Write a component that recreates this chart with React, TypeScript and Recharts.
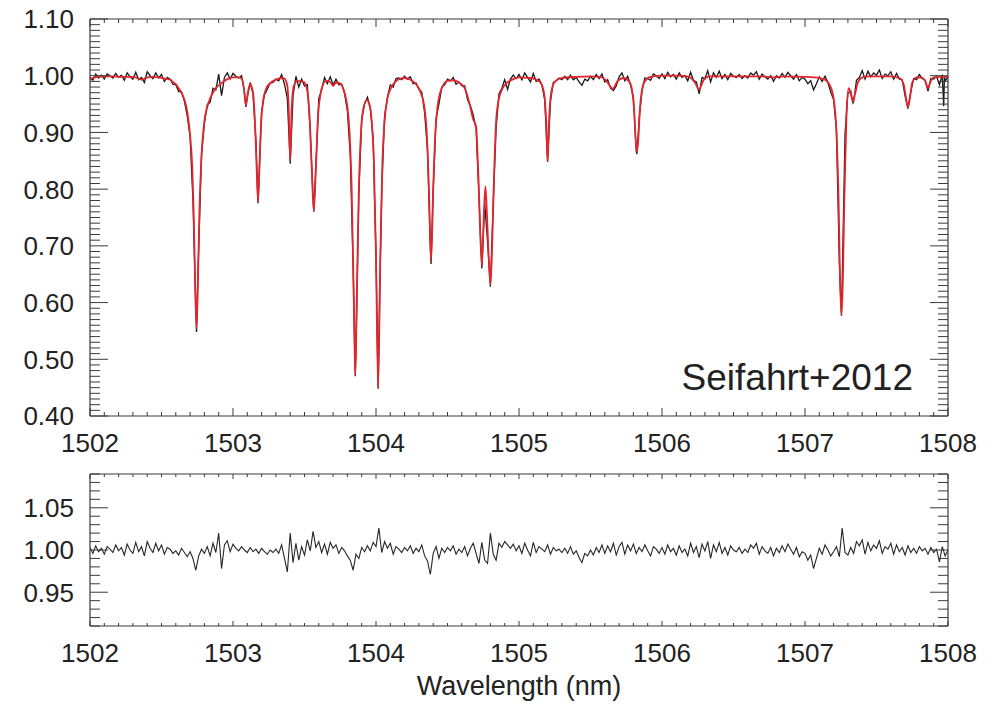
import React from 'react';
import { LineChart, Line, XAxis, YAxis } from 'recharts';

// ---------- data ----------
// best-fit telluric model (red): [wavelength nm, normalized flux]
const modelSpectrum: [number, number][] = [
  [1502.00,.993],[1502.02,.996],[1502.05,.998],[1502.10,.999],[1502.16,.999],[1502.22,.998],[1502.30,.998],[1502.33,.996],[1502.36,.993],[1502.39,.996],
  [1502.43,.998],[1502.48,.997],[1502.52,.995],[1502.56,.993],[1502.58,.989],[1502.60,.985],[1502.62,.978],[1502.64,.970],[1502.66,.958],[1502.68,.937],
  [1502.70,.895],[1502.715,.84],[1502.725,.76],[1502.735,.64],[1502.745,.555],[1502.755,.64],[1502.765,.76],[1502.78,.86],[1502.80,.92],[1502.82,.945],
  [1502.84,.96],[1502.86,.97],[1502.88,.978],[1502.90,.983],[1502.93,.989],[1502.96,.994],[1503.00,.997],[1503.04,.997],[1503.06,.995],[1503.075,.98],
  [1503.09,.948],[1503.105,.972],[1503.12,.985],[1503.14,.970],[1503.155,.91],[1503.165,.84],[1503.175,.778],[1503.185,.84],[1503.195,.91],[1503.21,.955],
  [1503.23,.976],[1503.26,.987],[1503.30,.993],[1503.34,.996],[1503.36,.995],[1503.38,.982],[1503.39,.94],[1503.40,.85],[1503.41,.94],[1503.425,.982],
  [1503.45,.991],[1503.48,.990],[1503.50,.988],[1503.52,.972],[1503.535,.93],[1503.55,.84],[1503.565,.762],[1503.58,.84],[1503.595,.93],[1503.61,.965],
  [1503.63,.985],[1503.65,.991],[1503.68,.989],[1503.70,.982],[1503.72,.988],[1503.75,.986],[1503.78,.970],[1503.80,.945],[1503.815,.90],[1503.83,.80],
  [1503.845,.60],[1503.855,.472],[1503.865,.60],[1503.88,.80],[1503.895,.90],[1503.91,.94],[1503.935,.957],[1503.955,.948],[1503.97,.92],[1503.985,.85],
  [1504.00,.68],[1504.015,.45],[1504.03,.68],[1504.045,.85],[1504.06,.92],[1504.08,.96],[1504.10,.976],[1504.13,.988],[1504.17,.995],[1504.20,.996],
  [1504.24,.993],[1504.28,.985],[1504.31,.972],[1504.34,.942],[1504.355,.90],[1504.37,.80],[1504.385,.672],[1504.40,.80],[1504.415,.90],[1504.43,.945],
  [1504.46,.978],[1504.50,.991],[1504.54,.992],[1504.58,.988],[1504.62,.978],[1504.65,.955],[1504.68,.923],[1504.70,.91],[1504.715,.83],[1504.74,.665],
  [1504.755,.76],[1504.765,.805],[1504.775,.76],[1504.79,.67],[1504.80,.632],[1504.81,.68],[1504.825,.82],[1504.84,.92],[1504.86,.96],[1504.88,.975],
  [1504.91,.986],[1504.96,.994],[1505.00,.997],[1505.08,.996],[1505.12,.993],[1505.15,.988],[1505.175,.97],[1505.19,.92],[1505.20,.85],[1505.21,.92],
  [1505.225,.97],[1505.25,.989],[1505.30,.996],[1505.40,.998],[1505.50,.999],[1505.58,.997],[1505.62,.988],[1505.655,.977],[1505.69,.991],[1505.73,.996],
  [1505.77,.99],[1505.79,.975],[1505.805,.94],[1505.815,.89],[1505.825,.865],[1505.835,.89],[1505.845,.94],[1505.86,.975],[1505.88,.99],[1505.92,.998],
  [1506.00,1.000],[1506.10,1.000],[1506.19,.998],[1506.23,.988],[1506.26,.976],[1506.29,.992],[1506.33,.999],[1506.50,.999],[1506.70,.999],[1506.78,.997],
  [1506.85,.999],[1507.00,.998],[1507.10,.996],[1507.14,.993],[1507.17,.985],[1507.20,.96],[1507.22,.90],[1507.235,.78],[1507.245,.64],[1507.255,.58],
  [1507.265,.64],[1507.275,.78],[1507.29,.93],[1507.305,.978],[1507.32,.968],[1507.335,.955],[1507.35,.968],[1507.37,.988],[1507.40,.997],[1507.45,.999],
  [1507.60,.999],[1507.66,.996],[1507.69,.985],[1507.71,.955],[1507.72,.945],[1507.73,.955],[1507.75,.988],[1507.78,.997],[1507.82,.996],[1507.845,.988],
  [1507.86,.978],[1507.875,.988],[1507.90,.997],[1507.95,.998],[1508.00,.998],
];

// observed spectrum (black): [wavelength nm, normalized flux]
const observedSpectrum: [number, number][] = [
  [1502.00,.997],[1502.02,.992],[1502.04,1.003],[1502.06,.996],[1502.08,1.001],[1502.10,.994],[1502.12,1.003],[1502.14,1.000],[1502.16,.996],[1502.18,1.004],
  [1502.20,.997],[1502.22,1.001],[1502.24,.992],[1502.26,1.005],[1502.28,.998],[1502.30,.994],[1502.32,1.006],[1502.34,.993],[1502.36,.997],[1502.38,.988],
  [1502.40,1.007],[1502.42,1.000],[1502.44,.995],[1502.46,1.005],[1502.48,.996],[1502.50,1.002],[1502.52,.990],[1502.54,.997],[1502.56,.994],[1502.58,.985],
  [1502.60,.984],[1502.62,.972],[1502.64,.972],[1502.66,.955],[1502.68,.929],[1502.70,.893],[1502.72,.78],[1502.74,.585],[1502.745,.548],[1502.76,.695],[1502.78,.861],
  [1502.80,.916],[1502.82,.949],[1502.84,.953],[1502.86,.978],[1502.88,.975],[1502.90,1.003],[1502.92,.965],[1502.94,.997],[1502.96,1.005],[1502.98,.994],
  [1503.00,1.004],[1503.02,.999],[1503.04,.996],[1503.06,1.000],[1503.08,.972],[1503.09,.945],[1503.10,.962],[1503.12,.988],[1503.14,.968],[1503.16,.886],[1503.175,.775],[1503.18,.807],
  [1503.20,.937],[1503.22,.966],[1503.24,.976],[1503.26,.987],[1503.28,.988],[1503.30,.994],[1503.32,.991],[1503.34,1.002],[1503.36,.985],[1503.38,.960],
  [1503.40,.845],[1503.42,.965],[1503.44,.999],[1503.46,.980],[1503.48,.994],[1503.50,.982],[1503.52,.984],[1503.54,.904],[1503.56,.785],[1503.565,.760],[1503.58,.843],
  [1503.60,.960],[1503.62,.975],[1503.64,.997],[1503.66,.986],[1503.68,.998],[1503.70,.984],[1503.72,.994],[1503.74,.984],[1503.76,.985],[1503.78,.969],
  [1503.80,.938],[1503.82,.860],[1503.84,.664],[1503.855,.470],[1503.86,.517],[1503.88,.792],[1503.90,.923],[1503.92,.950],[1503.94,.962],[1503.96,.944],[1503.98,.888],
  [1504.00,.683],[1504.015,.448],[1504.02,.533],[1504.04,.797],[1504.06,.929],[1504.08,.962],[1504.10,.984],[1504.12,.980],[1504.14,.995],[1504.16,.996],[1504.18,.993],
  [1504.20,.999],[1504.22,.994],[1504.24,.998],[1504.26,.986],[1504.28,.987],[1504.30,.976],[1504.32,.971],[1504.34,.935],[1504.36,.869],[1504.38,.700],[1504.385,.668],
  [1504.40,.797],[1504.42,.924],[1504.44,.950],[1504.46,.980],[1504.48,.984],[1504.50,.994],[1504.52,.991],[1504.54,.997],[1504.56,.985],[1504.58,.989],
  [1504.60,.982],[1504.62,.982],[1504.64,.958],[1504.66,.947],[1504.68,.931],[1504.70,.906],[1504.72,.787],[1504.74,.660],[1504.76,.775],[1504.78,.708],
  [1504.80,.628],[1504.82,.776],[1504.84,.909],[1504.86,.968],[1504.88,.978],[1504.90,.993],[1504.92,.976],[1504.94,.994],[1504.96,1.001],[1504.98,.995],
  [1505.00,1.002],[1505.02,.993],[1505.04,1.005],[1505.06,.997],[1505.08,.989],[1505.10,1.004],[1505.12,.990],[1505.14,.994],[1505.16,.984],[1505.18,.958],
  [1505.20,.848],[1505.22,.955],[1505.24,.988],[1505.26,.991],[1505.28,.996],[1505.30,.993],[1505.32,.999],[1505.34,.993],[1505.36,1.001],[1505.38,.993],
  [1505.40,.997],[1505.42,.989],[1505.44,.983],[1505.46,.994],[1505.48,.991],[1505.50,.999],[1505.52,.993],[1505.54,1.002],[1505.56,.995],[1505.58,1.003],
  [1505.60,.989],[1505.62,.993],[1505.64,.978],[1505.66,.974],[1505.68,.982],[1505.70,.998],[1505.72,1.005],[1505.74,.991],[1505.76,.999],[1505.78,.984],
  [1505.80,.962],[1505.82,.866],[1505.825,.862],[1505.84,.923],[1505.86,.973],[1505.88,.996],[1505.90,.995],[1505.92,.992],[1505.94,1.003],[1505.96,1.000],[1505.98,.995],
  [1506.00,1.003],[1506.02,.995],[1506.04,1.006],[1506.06,.998],[1506.08,1.002],[1506.10,.994],[1506.12,1.005],[1506.14,.997],[1506.16,1.000],[1506.18,.991],
  [1506.20,1.006],[1506.22,.992],[1506.24,.989],[1506.26,.968],[1506.28,.997],[1506.30,.995],[1506.32,1.009],[1506.34,.989],[1506.36,1.005],[1506.38,.997],
  [1506.40,1.008],[1506.42,.995],[1506.44,1.002],[1506.46,.993],[1506.48,1.004],[1506.50,.999],[1506.52,.997],[1506.54,1.002],[1506.56,.995],[1506.58,1.000],
  [1506.60,.996],[1506.62,1.005],[1506.64,1.001],[1506.66,1.007],[1506.68,.994],[1506.70,1.003],[1506.72,.998],[1506.74,.994],[1506.76,1.000],[1506.78,.990],
  [1506.80,1.000],[1506.82,.996],[1506.84,1.004],[1506.86,.997],[1506.88,1.006],[1506.90,1.000],[1506.92,.994],[1506.94,1.002],[1506.96,.991],[1506.98,.997],
  [1507.00,.994],[1507.02,.986],[1507.04,.991],[1507.06,.975],[1507.08,.986],[1507.10,.998],[1507.12,.990],[1507.14,.999],[1507.16,.988],[1507.18,.971],
  [1507.20,.958],[1507.22,.904],[1507.24,.672],[1507.255,.577],[1507.26,.636],[1507.28,.897],[1507.30,.969],[1507.32,.973],[1507.335,.952],[1507.34,.954],[1507.36,.992],[1507.38,.997],
  [1507.40,1.009],[1507.42,.994],[1507.44,1.008],[1507.46,.998],[1507.48,1.005],[1507.50,1.001],[1507.52,1.010],[1507.54,.995],[1507.56,1.003],[1507.58,1.000],
  [1507.60,1.007],[1507.62,.994],[1507.64,1.004],[1507.66,.994],[1507.68,.993],[1507.70,.964],[1507.72,.942],[1507.74,.972],[1507.76,.995],[1507.78,.993],
  [1507.80,1.002],[1507.82,.995],[1507.84,.992],[1507.86,.973],[1507.88,.995],[1507.90,.994],[1507.92,.999],[1507.94,.984],[1507.96,1.002],[1507.97,.946],[1507.975,.998],[1507.98,.991],[1508.00,.998],
];

// residuals (observed / model), sampled every 0.02 nm from 1502.00 nm
const residualStart = 1502.0;
const residualStep = 0.02;
const residuals: number[] = [
  1.003,0.996,1.005,0.998,1.002,0.995,1.004,1.001,0.997,1.006,
  0.999,1.003,0.994,1.007,1.000,0.996,1.009,0.998,1.004,0.993,
  1.010,1.002,0.997,1.008,0.999,1.006,0.995,1.003,1.001,0.996,
  0.999,0.994,1.002,0.997,0.992,0.998,0.990,0.976,0.993,1.001,
  0.996,1.004,0.993,1.008,0.997,1.020,0.978,1.006,1.011,0.998,
  1.007,1.002,0.999,1.004,1.000,0.997,1.003,0.998,1.001,0.996,
  1.002,0.998,0.995,1.000,0.997,1.001,0.996,1.006,0.990,0.974,
  1.020,0.985,1.008,0.988,1.004,0.994,1.012,0.999,1.022,1.003,
  1.010,0.997,1.007,0.995,1.009,1.002,1.006,0.996,1.003,0.999,
  0.993,0.988,0.976,0.995,0.990,1.003,0.998,1.005,0.999,1.009,
  1.004,1.026,0.997,1.010,1.002,1.008,0.995,1.004,1.001,0.997,
  1.003,0.999,1.005,0.996,1.002,0.998,1.006,0.993,0.987,0.971,
  0.996,1.004,0.990,1.002,0.997,1.003,0.999,1.005,0.995,1.001,
  0.997,1.004,0.993,1.002,1.008,0.996,0.984,1.009,0.988,0.984,
  1.020,0.995,0.988,1.008,1.003,1.010,1.006,1.002,1.007,0.999,
  1.005,0.996,1.008,1.000,0.993,1.009,0.997,1.004,1.001,0.998,
  1.006,0.995,1.003,0.999,1.001,0.997,1.002,0.996,1.004,0.995,
  0.999,0.991,0.985,0.996,0.993,1.000,0.994,1.003,0.997,1.006,
  0.996,1.005,0.998,1.008,0.994,1.004,1.009,0.995,1.006,0.999,
  1.007,0.996,1.003,0.998,1.006,0.999,0.993,1.004,1.001,0.996,
  1.003,0.995,1.006,0.998,1.002,0.994,1.005,0.997,1.001,0.993,
  1.008,0.997,1.004,0.991,1.007,0.999,1.010,0.990,1.006,0.998,
  1.009,0.996,1.003,0.994,1.005,1.000,0.998,1.003,0.996,1.001,
  0.997,1.006,1.002,1.008,0.995,1.004,0.999,0.996,1.003,0.993,
  1.002,0.997,1.005,0.998,1.007,1.001,0.995,1.003,0.992,0.998,
  0.996,0.988,0.994,0.978,0.990,1.002,0.995,1.006,1.000,0.993,
  0.998,1.004,0.992,1.026,0.997,0.994,1.003,0.996,1.010,1.005,
  1.012,0.995,1.009,0.999,1.006,1.002,1.011,0.996,1.004,1.001,
  1.008,0.995,1.006,0.998,1.003,0.994,1.005,0.997,1.002,0.996,
  1.004,0.999,1.002,0.995,1.003,0.997,1.001,0.986,1.004,0.993,
  1.000,
];

const wavelengthDomain: [number, number] = [1502, 1508];
const fluxDomain: [number, number] = [0.4, 1.1];
const residualDomain: [number, number] = [0.91, 1.09];
const annotation = 'Seifahrt+2012';
const xTitle = 'Wavelength (nm)';

// ---------- derived tables ----------
const modelData = modelSpectrum.map(([w, f]) => ({ w, f }));
const observedData = observedSpectrum.map(([w, f]) => ({ w, f }));
const residualData = residuals.map((f, i) => ({ w: residualStart + i * residualStep, f }));

const wlTicks = Array.from({ length: 61 }, (_, i) => Math.round((1502 + i * 0.1) * 10) / 10);
const topYTicks = Array.from({ length: 71 }, (_, i) => Math.round((0.4 + i * 0.01) * 100) / 100);
const botYTicks = Array.from({ length: 19 }, (_, i) => Math.round((0.91 + i * 0.01) * 100) / 100);

const near = (a: number) => Math.abs(a - Math.round(a)) < 1e-6;
const isMajorWl = (v: number) => near(v);
const isMajorTop = (v: number) => near(v * 10);
const isMajorBot = (v: number) => near(v * 20);

const FONT = '"Liberation Sans", Helvetica, Arial, sans-serif';
const AX = '#3a3a3a';
const TXT = '#222';
const FS = 26;

type Side = 'bottom' | 'top' | 'left' | 'right';

function makeTick(side: Side, majorLen: number, minorLen: number, isMajor: (v: number) => boolean, fmt?: (v: number) => string) {
  return (props: any) => {
    const { x, y, payload } = props;
    const v = payload.value as number;
    const major = isMajor(v);
    const len = major ? majorLen : minorLen;
    let x2 = x;
    let y2 = y;
    if (side === 'bottom') y2 = y - len;
    else if (side === 'top') y2 = y + len;
    else if (side === 'left') x2 = x + len;
    else x2 = x - len;
    return (
      <g>
        <line x1={x} y1={y} x2={x2} y2={y2} stroke={AX} strokeWidth={1} />
        {major && fmt && side === 'bottom' && (
          <text x={x} y={y + 36} textAnchor="middle" fontFamily={FONT} fontSize={FS} fill={TXT}>
            {fmt(v)}
          </text>
        )}
        {major && fmt && side === 'left' && (
          <text x={x - 16} y={y} dy="0.36em" textAnchor="end" fontFamily={FONT} fontSize={FS} fill={TXT}>
            {fmt(v)}
          </text>
        )}
      </g>
    );
  };
}

const fmtWl = (v: number) => String(Math.round(v));
const fmt2 = (v: number) => v.toFixed(2);

const axisLineStyle = { stroke: AX, strokeWidth: 1.2 };

export default function App() {
  return (
    <div style={{ position: 'absolute', left: 0, top: 0, width: 997, height: 704, background: '#fff', overflow: 'hidden' }}>
      {/* Top panel: spectrum + model */}
      <div style={{ position: 'absolute', left: 0, top: 0 }}>
        <LineChart width={997} height={460} margin={{ top: 0, right: 0, bottom: 0, left: 0 }}>
          <XAxis
            dataKey="w"
            type="number"
            domain={wavelengthDomain}
            allowDataOverflow
            ticks={wlTicks}
            interval={0}
            height={44}
            tickSize={0}
            tickMargin={0}
            tickLine={false}
            axisLine={axisLineStyle}
            tick={makeTick('bottom', 8, 4, isMajorWl, fmtWl)}
          />
          <XAxis
            xAxisId="top"
            orientation="top"
            dataKey="w"
            type="number"
            domain={wavelengthDomain}
            allowDataOverflow
            ticks={wlTicks}
            interval={0}
            height={19}
            tickSize={0}
            tickMargin={0}
            tickLine={false}
            axisLine={axisLineStyle}
            tick={makeTick('top', 8, 4, isMajorWl)}
          />
          <YAxis
            type="number"
            domain={fluxDomain}
            allowDataOverflow
            ticks={topYTicks}
            interval={0}
            width={90}
            tickSize={0}
            tickMargin={0}
            tickLine={false}
            axisLine={axisLineStyle}
            tick={makeTick('left', 18, 10, isMajorTop, fmt2)}
          />
          <YAxis
            yAxisId="right"
            orientation="right"
            type="number"
            domain={fluxDomain}
            allowDataOverflow
            ticks={topYTicks}
            interval={0}
            width={49}
            tickSize={0}
            tickMargin={0}
            tickLine={false}
            axisLine={axisLineStyle}
            tick={makeTick('right', 18, 10, isMajorTop)}
          />
          <Line
            data={observedData}
            dataKey="f"
            type="linear"
            stroke="#1a1a1a"
            strokeWidth={1.3}
            dot={false}
            activeDot={false}
            isAnimationActive={false}
          />
          <Line
            data={modelData}
            dataKey="f"
            type="monotone"
            stroke="#e3262e"
            strokeWidth={1.8}
            dot={false}
            activeDot={false}
            isAnimationActive={false}
          />
        </LineChart>
      </div>

      {/* Bottom panel: residuals */}
      <div style={{ position: 'absolute', left: 0, top: 460 }}>
        <LineChart width={997} height={244} margin={{ top: 0, right: 0, bottom: 0, left: 0 }}>
          <XAxis
            dataKey="w"
            type="number"
            domain={wavelengthDomain}
            allowDataOverflow
            ticks={wlTicks}
            interval={0}
            height={78}
            tickSize={0}
            tickMargin={0}
            tickLine={false}
            axisLine={axisLineStyle}
            tick={makeTick('bottom', 5, 3, isMajorWl, fmtWl)}
            label={{
              content: (p: any) => {
                const vb = p.viewBox || { x: 90, y: 166, width: 858, height: 78 };
                return (
                  <text x={vb.x + vb.width / 2} y={vb.y + 69} textAnchor="middle" fontFamily={FONT} fontSize={27} fill={TXT}>
                    {xTitle}
                  </text>
                );
              },
            }}
          />
          <XAxis
            xAxisId="top"
            orientation="top"
            dataKey="w"
            type="number"
            domain={wavelengthDomain}
            allowDataOverflow
            ticks={wlTicks}
            interval={0}
            height={14}
            tickSize={0}
            tickMargin={0}
            tickLine={false}
            axisLine={axisLineStyle}
            tick={makeTick('top', 5, 3, isMajorWl)}
          />
          <YAxis
            type="number"
            domain={residualDomain}
            allowDataOverflow
            ticks={botYTicks}
            interval={0}
            width={90}
            tickSize={0}
            tickMargin={0}
            tickLine={false}
            axisLine={axisLineStyle}
            tick={makeTick('left', 18, 10, isMajorBot, fmt2)}
          />
          <YAxis
            yAxisId="right"
            orientation="right"
            type="number"
            domain={residualDomain}
            allowDataOverflow
            ticks={botYTicks}
            interval={0}
            width={49}
            tickSize={0}
            tickMargin={0}
            tickLine={false}
            axisLine={axisLineStyle}
            tick={makeTick('right', 18, 10, isMajorBot)}
          />
          <Line
            data={residualData}
            dataKey="f"
            type="linear"
            stroke="#262626"
            strokeWidth={1.1}
            dot={false}
            activeDot={false}
            isAnimationActive={false}
          />
        </LineChart>
      </div>

      {/* annotation */}
      <svg style={{ position: 'absolute', left: 0, top: 0, pointerEvents: 'none' }} width={997} height={704}>
        <text x={913} y={390} textAnchor="end" fontFamily={FONT} fontSize={37} fill={TXT}>
          {annotation}
        </text>
      </svg>
    </div>
  );
}
